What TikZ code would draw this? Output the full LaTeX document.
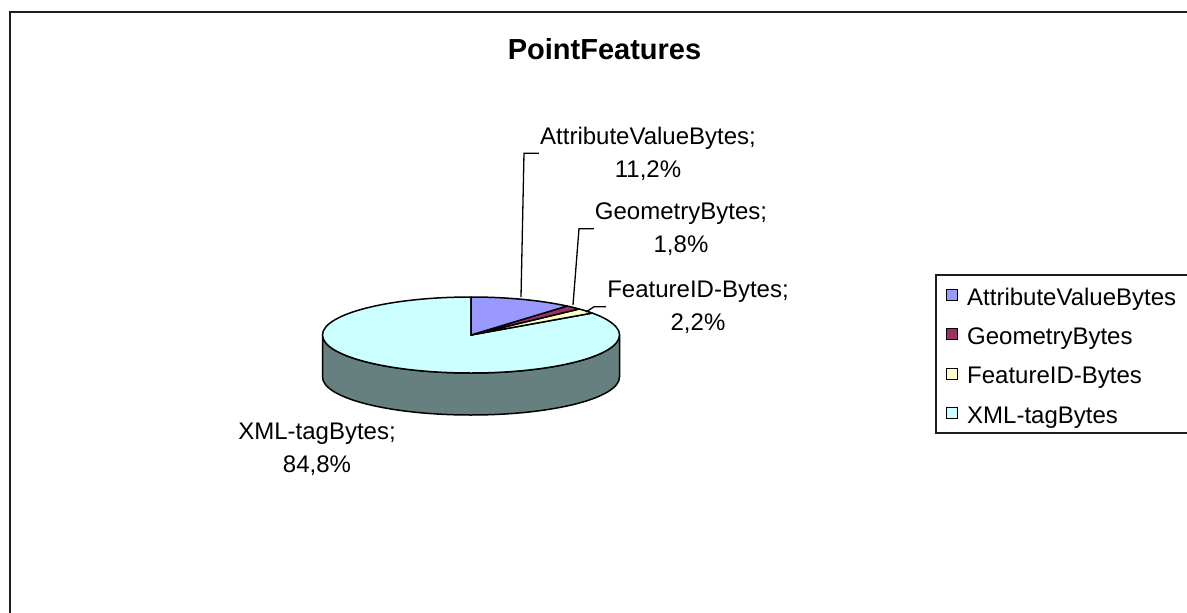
\documentclass[tikz,border=0pt]{standalone}
\usepackage{fontspec}
\setmainfont{Liberation Sans}
\usetikzlibrary{calc}
\definecolor{attrcol}{RGB}{153,153,255}
\definecolor{geomcol}{RGB}{153,51,102}
\definecolor{featcol}{RGB}{255,255,204}
\definecolor{xmlcol}{RGB}{204,255,255}
\definecolor{xmlside}{RGB}{102,128,128}
\definecolor{framecol}{RGB}{30,30,30}
\tikzset{
  slice/.style={draw=black, line width=1.5pt, line join=round},
  leader/.style={draw=black, line width=1.3pt},
  plabel/.style={align=center, inner sep=1pt, anchor=base, font=\fontsize{24}{33}\selectfont},
  legtext/.style={anchor=base west, inner sep=0pt, font=\fontsize{24}{28}\selectfont},
  legkey/.style={draw=black, line width=1pt, minimum size=11pt, inner sep=0pt},
}
\begin{document}
\begin{tikzpicture}[x=1pt,y=1pt]
  \useasboundingbox (0,0) rectangle (1187,-613);
  \clip (0,0) rectangle (1187,-613);
  \fill[white] (0,0) rectangle (1187,-613);

  % chart area frame (runs off the right and bottom edges)
  \draw[framecol, line width=2pt] (9.5,-11.5) rectangle (1220,-640);

  % title
  \node[anchor=base, inner sep=0pt, font=\fontsize{29}{34}\selectfont\bfseries] (title) at (604.5,-59) {PointFeatures};

  % 3D pie: centre, radii and depth
  \def\cx{471}\def\cy{-335}\def\ra{148.5}\def\rb{38}\def\dz{42}
  \coordinate (c) at (\cx,\cy);

  % visible side wall (front half belongs to XML-tagBytes)
  \path[slice, fill=xmlside]
    (\cx-\ra,\cy) -- (\cx-\ra,\cy-\dz)
    arc[start angle=180, end angle=360, x radius=\ra, y radius=\rb]
    -- (\cx+\ra,\cy)
    arc[start angle=0, end angle=-180, x radius=\ra, y radius=\rb] -- cycle;

  % top face slices
  \path[slice, fill=xmlcol] (c) -- (\cx,\cy+\rb)
    arc[start angle=90, end angle=395.28, x radius=\ra, y radius=\rb] -- cycle;
  \path[slice, fill=featcol] (c) -- ($(c)+(43.2:\ra pt and \rb pt)$)
    arc[start angle=43.2, end angle=35.28, x radius=\ra, y radius=\rb] -- cycle;
  \path[slice, fill=geomcol] (c) -- ($(c)+(49.68:\ra pt and \rb pt)$)
    arc[start angle=49.68, end angle=43.2, x radius=\ra, y radius=\rb] -- cycle;
  \path[slice, fill=attrcol] (c) -- (\cx,\cy+\rb)
    arc[start angle=90, end angle=49.68, x radius=\ra, y radius=\rb] -- cycle;

  % data labels (anchored at the baseline of the second line)
  \node[plabel] (lattr) at (648,-177) {AttributeValueBytes;\\11,2\%};
  \node[plabel] (lgeom) at (681,-252) {GeometryBytes;\\1,8\%};
  \node[plabel] (lfeat) at (698,-330) {FeatureID-Bytes;\\2,2\%};
  \node[plabel] (lxml)  at (317,-472) {XML-tagBytes;\\84,8\%};

  % leader lines
  \coordinate (pa) at (521,-297);
  \coordinate (ka) at (524,-150);
  \coordinate (pg) at (573,-305);
  \coordinate (kg) at (579,-228);
  \coordinate (pf) at (586,-312);
  \coordinate (kf) at (594,-308);
  \draw[leader] (pa) -- (ka |- lattr.west) -- (lattr.west);
  \draw[leader] (pg) -- (kg |- lgeom.west) -- (lgeom.west);
  \draw[leader] (pf) -- (kf |- lfeat.west) -- (lfeat.west);

  % legend
  \draw[framecol, line width=1.5pt] (936,-275) rectangle (1220,-433);
  \node[legkey, fill=attrcol] (k1) at (951.5,-294.5) {};
  \node[legkey, fill=geomcol] (k2) at (951.5,-334) {};
  \node[legkey, fill=featcol] (k3) at (951.5,-373.5) {};
  \node[legkey, fill=xmlcol]  (k4) at (951.5,-413) {};
  \node[legtext] (t1) at (967,-305) {AttributeValueBytes};
  \node[legtext] (t2) at (967,-344) {GeometryBytes};
  \node[legtext] (t3) at (967,-383.5) {FeatureID-Bytes};
  \node[legtext] (t4) at (967,-423) {XML-tagBytes};
\end{tikzpicture}
\end{document}
